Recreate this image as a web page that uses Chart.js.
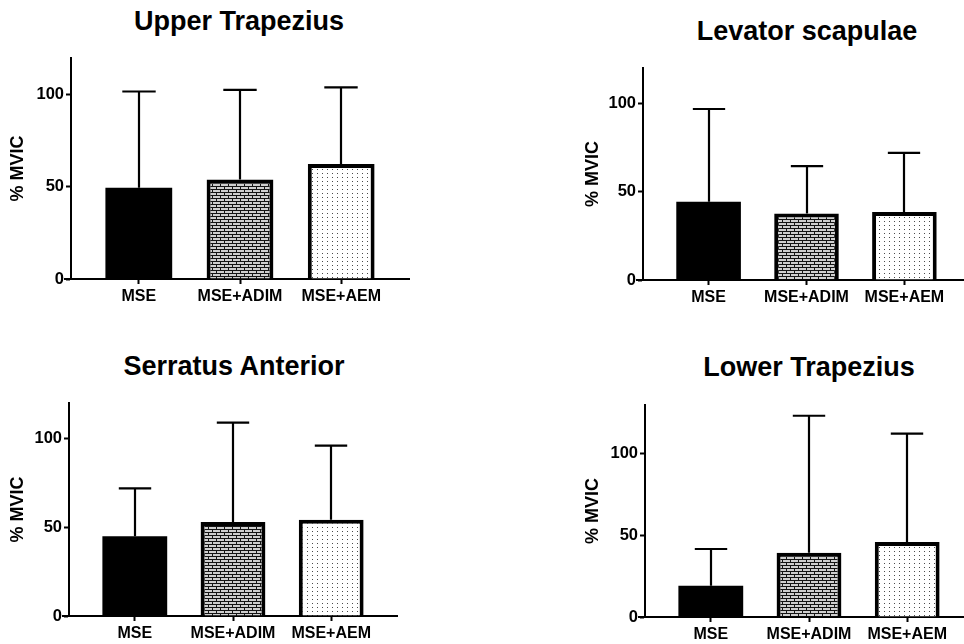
<!DOCTYPE html>
<html><head><meta charset="utf-8">
<script src="https://cdn.jsdelivr.net/npm/chart.js@4.4.0/dist/chart.umd.min.js"></script>
<style>
html,body{margin:0;padding:0;background:#fff;width:964px;height:644px;overflow:hidden;position:relative;}
canvas{position:absolute;}
.ttl{position:absolute;width:400px;text-align:center;font-family:'Liberation Sans',Arial,sans-serif;font-weight:bold;font-size:27px;line-height:30px;color:#000;white-space:nowrap;}
</style></head><body>
<div class="ttl" id="t1"></div>
<div class="ttl" id="t2"></div>
<div class="ttl" id="t3"></div>
<div class="ttl" id="t4"></div>
<canvas id="c1" width="482" height="322" style="left:0px;top:0px"></canvas>
<canvas id="c2" width="500" height="322" style="left:482px;top:0px"></canvas>
<canvas id="c3" width="482" height="322" style="left:0px;top:322px"></canvas>
<canvas id="c4" width="500" height="322" style="left:482px;top:322px"></canvas>
<script>
// ---- data ----
const categories = ['MSE', 'MSE+ADIM', 'MSE+AEM'];
const panelTitles = ['Upper Trapezius', 'Levator scapulae', 'Serratus Anterior', 'Lower Trapezius'];
const yAxisTitle = '% MVIC';
const yTicks = [0, 50, 100];

const upperTrapMean = [49.5, 54.0, 62.5];
const upperTrapSD   = [52.3, 48.7, 41.5];
const levatorMean   = [44.3, 37.7, 38.5];
const levatorSD     = [52.5, 26.8, 33.5];
const serratusMean  = [44.9, 53.0, 54.2];
const serratusSD    = [27.0, 56.0, 41.8];
const lowerTrapMean = [19.1, 39.4, 46.0];
const lowerTrapSD   = [22.6, 84.0, 66.5];
const yMaxUpper = 120, yMaxLevator = 120, yMaxSerratus = 120, yMaxLower = 130;

// ---- patterns ----
function brickPattern() {
  const c = document.createElement('canvas'); c.width = 8; c.height = 6;
  const g = c.getContext('2d');
  g.fillStyle = '#cfcfcf'; g.fillRect(0, 0, 8, 6);
  g.fillStyle = '#141414';
  g.fillRect(0, 0, 8, 1); g.fillRect(0, 3, 8, 1);
  g.fillRect(0, 1, 1, 2); g.fillRect(4, 4, 1, 2);
  return g.createPattern(c, 'repeat');
}
function dotPattern() {
  const c = document.createElement('canvas'); c.width = 5; c.height = 4;
  const g = c.getContext('2d');
  g.fillStyle = '#ffffff'; g.fillRect(0, 0, 5, 4);
  g.fillStyle = '#4a4a4a'; g.fillRect(2, 1, 1, 1);
  return g.createPattern(c, 'repeat');
}
const fills = ['#000000', brickPattern(), dotPattern()];

const FONT = "'Liberation Sans', Arial, sans-serif";
Chart.defaults.font.family = FONT;
Chart.defaults.color = '#000';

const errorBarPlugin = {
  id: 'errbars',
  afterDatasetsDraw(chart) {
    const ctx = chart.ctx, ys = chart.scales.y;
    ctx.save();
    ctx.strokeStyle = '#000'; ctx.lineWidth = 2.2; ctx.lineCap = 'butt';
    chart.data.datasets.forEach((ds, di) => {
      const meta = chart.getDatasetMeta(di);
      meta.data.forEach((bar, i) => {
        const top = ys.getPixelForValue(ds.data[i].y + ds.errors[i]);
        const half = bar.width * 0.25;
        const x = Math.round(bar.x);
        ctx.beginPath();
        ctx.moveTo(x, bar.y); ctx.lineTo(x, top);
        ctx.moveTo(x - half, top); ctx.lineTo(x + half, top);
        ctx.stroke();
      });
    });
    // x-axis stub left of the y axis
    const ca = chart.chartArea;
    const yb = Math.round(ys.getPixelForValue(0));
    ctx.lineWidth = 2;
    ctx.beginPath(); ctx.moveTo(ca.left - 7, yb); ctx.lineTo(ca.left + 1, yb); ctx.stroke();
    ctx.restore();
  }
};

function makePanel(id, means, sds, yMax, geo) {
  const canvas = document.getElementById(id);
  const W = canvas.width, H = canvas.height;
  const padLeft = geo.tx - 10.8 - 4;
  new Chart(canvas, {
    type: 'bar',
    data: {
      datasets: [{
        data: categories.map((c, i) => ({ x: i, y: means[i] })),
        errors: sds,
        backgroundColor: fills,
        borderColor: '#000',
        borderWidth: [0, 4, 4],
        categoryPercentage: 1,
        barPercentage: 0.66
      }]
    },
    options: {
      responsive: false, animation: false, devicePixelRatio: 1,
      layout: { padding: { left: padLeft, top: geo.top, right: W - geo.right, bottom: 0 } },
      plugins: { legend: { display: false }, tooltip: { enabled: false }, title: { display: false } },
      scales: {
        x: {
          type: 'linear', min: -0.67, max: 2.67, offset: false,
          afterBuildTicks: s => { s.ticks = categories.map((c, i) => ({ value: i })); },
          afterFit: s => { s.height = H - geo.bottom; },
          grid: { display: true, offset: false, drawOnChartArea: false, drawTicks: true, tickLength: 5, tickWidth: 2, tickColor: '#000' },
          border: { display: true, color: '#000', width: 2 },
          ticks: { callback: v => categories[v], autoSkip: false, maxRotation: 0, minRotation: 0, padding: 3,
                   color: '#000', font: { size: 16, weight: 'bold', family: FONT } }
        },
        y: {
          type: 'linear', min: 0, max: yMax,
          afterBuildTicks: s => { s.ticks = yTicks.map(v => ({ value: v })); },
          afterFit: s => { s.width = geo.left - padLeft; },
          grid: { display: true, drawOnChartArea: false, drawTicks: true, tickLength: 5, tickWidth: 2, tickColor: '#000' },
          border: { display: true, color: '#000', width: 2 },
          ticks: { padding: 2, color: '#000', font: { size: 16.5, weight: 'bold', family: FONT } },
          title: { display: true, text: yAxisTitle, color: '#000', padding: { top: 4, bottom: 4 },
                   font: { size: 18, weight: 'bold', family: FONT } }
        }
      }
    },
    plugins: [errorBarPlugin]
  });
}

function placeTitle(id, text, cx, cy) {
  const el = document.getElementById(id);
  el.textContent = text;
  el.style.left = (cx - 200) + 'px';
  el.style.top = (cy - 15) + 'px';
}

placeTitle('t1', panelTitles[0], 239, 21);
placeTitle('t2', panelTitles[1], 807, 31);
placeTitle('t3', panelTitles[2], 234, 366);
placeTitle('t4', panelTitles[3], 809, 367);

makePanel('c1', upperTrapMean, upperTrapSD, yMaxUpper, { left: 71, top: 58, bottom: 279, right: 409, tx: 18 });
makePanel('c2', levatorMean, levatorSD, yMaxLevator, { left: 161, top: 68, bottom: 280, right: 488, tx: 111 });
makePanel('c3', serratusMean, serratusSD, yMaxSerratus, { left: 69, top: 81, bottom: 294, right: 397, tx: 18 });
makePanel('c4', lowerTrapMean, lowerTrapSD, yMaxLower, { left: 163, top: 83, bottom: 295, right: 491, tx: 111 });
</script>
</body></html>
